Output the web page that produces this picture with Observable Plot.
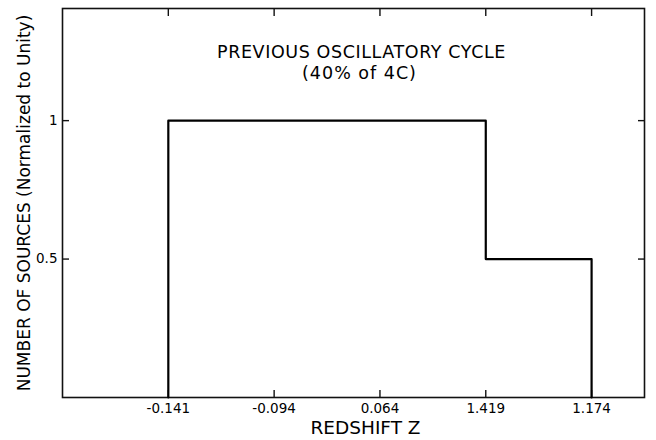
<!DOCTYPE html>
<html>
<head>
<meta charset="utf-8">
<script src="https://cdn.jsdelivr.net/npm/d3@7"></script>
<script src="https://cdn.jsdelivr.net/npm/@observablehq/plot@0.6"></script>
<style>
  html, body { margin: 0; padding: 0; background: #fff; }
  #chart svg { display: block; }
  #chart g[aria-label$="tick label"], #chart g[aria-label$="tick label"] text { font-size: 13.5px !important; }
</style>
</head>
<body>
<div id="chart"></div>
<script>
// Redshift tick labels (equally spaced, in the order printed)
const zTicks = ["-0.141", "-0.094", "0.064", "1.419", "1.174"];
// Histogram bins: start label, end label, normalized count
const binStart = ["-0.141", "1.419"];
const binEnd = ["1.419", "1.174"];
const binCount = [1, 0.5];
// Y tick values
const yTicks = [0.5, 1];
const titleLines = ["PREVIOUS OSCILLATORY CYCLE", "(40% of 4C)"];
const xLabel = "REDSHIFT Z";
const yLabel = "NUMBER OF SOURCES (Normalized to Unity)";

const idx = (s) => zTicks.indexOf(s);
const steps = [];
binStart.forEach((s, i) => {
  if (i === 0) steps.push({x: idx(s), y: 0});
  steps.push({x: idx(s), y: binCount[i]});
  steps.push({x: idx(binEnd[i]), y: binCount[i]});
  if (i === binStart.length - 1) steps.push({x: idx(binEnd[i]), y: 0});
});
const tickIdx = zTicks.map((d, i) => i);

const font = "DejaVu Sans, Verdana, sans-serif";

const chart = Plot.plot({
  width: 656,
  height: 440,
  marginLeft: 62,
  marginRight: 12,
  marginTop: 8,
  marginBottom: 43,
  style: {fontFamily: font, fontSize: "13.5px", background: "#fff", color: "#000"},
  x: {type: "linear", domain: [-1, 4.5]},
  y: {domain: [0, 1.405]},
  marks: [
    Plot.frame({stroke: "#111", strokeWidth: 1.6}),
    // bottom ticks (inward) and labels
    Plot.axisX({anchor: "bottom", ticks: tickIdx, tickSize: -7, text: null, label: null, stroke: "#111", strokeWidth: 1.4}),
    Plot.axisX({anchor: "bottom", ticks: tickIdx, tickSize: 0, tickPadding: 6, tickFormat: (i) => zTicks[i], label: null, fill: "#000"}),
    // top ticks (inward)
    Plot.axisX({anchor: "top", ticks: tickIdx, tickSize: -7, text: null, label: null, stroke: "#111", strokeWidth: 1.4}),
    // left ticks (inward) and labels
    Plot.axisY({anchor: "left", ticks: yTicks, tickSize: -7, text: null, label: null, stroke: "#111", strokeWidth: 1.4}),
    Plot.axisY({anchor: "left", ticks: yTicks, tickSize: 0, tickPadding: 5, tickFormat: (d) => d === 1 ? "1" : "0.5", label: null, fill: "#000"}),
    // right ticks (inward)
    Plot.axisY({anchor: "right", ticks: yTicks, tickSize: -7, text: null, label: null, stroke: "#111", strokeWidth: 1.4}),
    // histogram outline
    Plot.line(steps, {x: "x", y: "y", stroke: "#000", strokeWidth: 2.2, curve: "linear"}),
    // title inside the frame
    Plot.text([titleLines[0]], {frameAnchor: "top", lineAnchor: "bottom", dx: 8, dy: 49, text: (d) => d, fontSize: 17.5, fill: "#000"}),
    Plot.text([titleLines[1]], {frameAnchor: "top", lineAnchor: "bottom", dx: 6, dy: 70, text: (d) => d, fontSize: 17.5, fill: "#000"}),
    // axis labels
    Plot.text([xLabel], {frameAnchor: "bottom", lineAnchor: "middle", dx: 12, dy: 31, text: (d) => d, fontSize: 18.5, fill: "#000"}),
    Plot.text([yLabel], {frameAnchor: "left", textAnchor: "middle", lineAnchor: "middle", dx: -38, dy: 0, rotate: -90, text: (d) => d, fontSize: 17, fill: "#000"})
  ]
});
// wider lettering for the in-frame title, as in the hand-lettered original
d3.select(chart).selectAll("text")
  .filter(function () { return this.textContent === titleLines[0]; })
  .attr("letter-spacing", "0.6px");
d3.select(chart).selectAll("text")
  .filter(function () { return this.textContent === titleLines[1]; })
  .attr("letter-spacing", "1px");
document.getElementById("chart").appendChild(chart);
</script>
</body>
</html>
